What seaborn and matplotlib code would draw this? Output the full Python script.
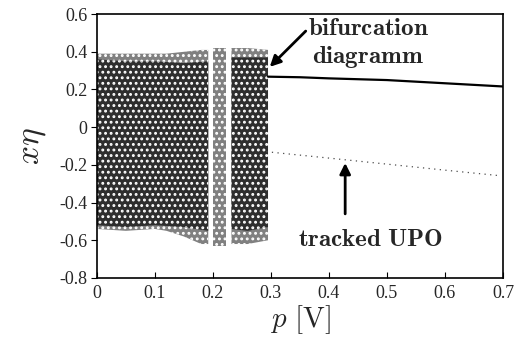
import numpy as np
import pandas as pd
import matplotlib
matplotlib.use("Agg")
import matplotlib.pyplot as plt
import seaborn as sns

# ------------------------------------------------------------
# data
# ------------------------------------------------------------

# chaotic band (outer envelope of the bifurcation diagram), split at the windows
band1_p = [0.0, 0.05, 0.10, 0.12, 0.15, 0.18, 0.192]
band1_hi = [0.39, 0.39, 0.39, 0.39, 0.40, 0.41, 0.41]
band1_lo = [-0.54, -0.55, -0.54, -0.55, -0.58, -0.62, -0.62]

band2_p = [0.200, 0.222]
band2_hi = [0.42, 0.42]
band2_lo = [-0.63, -0.63]

band3_p = [0.232, 0.26, 0.295]
band3_hi = [0.42, 0.42, 0.41]
band3_lo = [-0.62, -0.62, -0.60]

# denser core of the band
core1_p = [0.0, 0.05, 0.10, 0.15, 0.192]
core1_hi = [0.36, 0.35, 0.35, 0.34, 0.35]
core1_lo = [-0.52, -0.53, -0.52, -0.53, -0.55]

core3_p = [0.232, 0.26, 0.295]
core3_hi = [0.37, 0.37, 0.37]
core3_lo = [-0.54, -0.55, -0.53]

# stable orbit after the crisis
orbit_p = [0.295, 0.35, 0.40, 0.50, 0.60, 0.70]
orbit_x = [0.268, 0.265, 0.259, 0.250, 0.233, 0.216]

# tracked unstable periodic orbit
upo_p = [0.292, 0.40, 0.50, 0.60, 0.69]
upo_x = [-0.13, -0.164, -0.196, -0.228, -0.256]

x_ticks = [0, 0.1, 0.2, 0.3, 0.4, 0.5, 0.6, 0.7]
x_tick_labels = ["0", "0.1", "0.2", "0.3", "0.4", "0.5", "0.6", "0.7"]
y_ticks = [-0.8, -0.6, -0.4, -0.2, 0, 0.2, 0.4, 0.6]
y_tick_labels = ["-0.8", "-0.6", "-0.4", "-0.2", "0", "0.2", "0.4", "0.6"]

# ------------------------------------------------------------
# plot
# ------------------------------------------------------------

sns.set_style("ticks")
plt.rcParams["font.family"] = ["Liberation Serif", "DejaVu Serif"]
plt.rcParams["mathtext.fontset"] = "cm"
plt.rcParams["hatch.linewidth"] = 1.3

fig = plt.figure(figsize=(5.18, 3.44), dpi=100)
ax = fig.add_axes([0.187, 0.192, 0.784, 0.767])

# sparse fringe
for bp, bhi, blo in [(band1_p, band1_hi, band1_lo),
                     (band2_p, band2_hi, band2_lo),
                     (band3_p, band3_hi, band3_lo)]:
    ax.fill_between(bp, blo, bhi, facecolor="0.5", edgecolor="white",
                    hatch="...", linewidth=0)

# dense core
for bp, bhi, blo in [(core1_p, core1_hi, core1_lo),
                     (core3_p, core3_hi, core3_lo)]:
    ax.fill_between(bp, blo, bhi, facecolor="0.18", edgecolor="white",
                    hatch="...", linewidth=0)

orbit_df = pd.DataFrame({"p": orbit_p, "x": orbit_x})
upo_df = pd.DataFrame({"p": upo_p, "x": upo_x})
sns.lineplot(data=orbit_df, x="p", y="x", ax=ax, color="black", linewidth=1.6)
sns.lineplot(data=upo_df, x="p", y="x", ax=ax, color="0.3", linewidth=0.9,
             linestyle=(0, (1, 3.5)))

ax.set_xlim(0, 0.7)
ax.set_ylim(-0.8, 0.6)
ax.set_xticks(x_ticks)
ax.set_xticklabels(x_tick_labels)
ax.set_yticks(y_ticks)
ax.set_yticklabels(y_tick_labels)
ax.tick_params(axis="x", direction="in", length=4, labelsize=13, pad=5, color="black")
ax.tick_params(axis="y", direction="out", length=4, labelsize=13, pad=3, color="black")
for s in ax.spines.values():
    s.set_color("black")
    s.set_linewidth(1.2)

ax.set_xlabel(r"$p\ [\mathrm{V}]$", fontsize=21, labelpad=1)
ax.set_ylabel(r"$x\eta$", fontsize=24, labelpad=8)

arrow = dict(arrowstyle="-|>", color="black", lw=2, mutation_scale=16,
             shrinkA=0, shrinkB=0)
ax.annotate("", xy=(0.298, 0.32), xytext=(0.36, 0.51), arrowprops=arrow)
ax.text(0.468, 0.52, r"$\mathbf{bifurcation}$", fontsize=18, ha="center", va="center")
ax.text(0.468, 0.37, r"$\mathbf{diagramm}$", fontsize=18, ha="center", va="center")

ax.annotate("", xy=(0.428, -0.19), xytext=(0.428, -0.46), arrowprops=arrow)
ax.text(0.471, -0.6, r"$\mathbf{tracked\ UPO}$", fontsize=18, ha="center", va="center")

fig.savefig("out.png", dpi=100, facecolor="white")
